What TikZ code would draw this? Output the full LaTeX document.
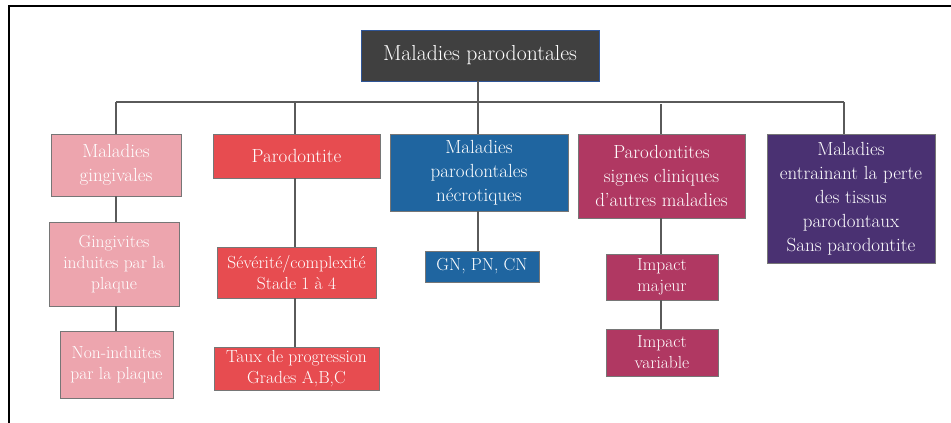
\documentclass[tikz,border=0pt]{standalone}
\usepackage{fontspec}
\definecolor{rootfill}{RGB}{64,64,64}
\definecolor{rootborder}{RGB}{47,85,151}
\definecolor{pinkfill}{RGB}{237,165,174}
\definecolor{redfill}{RGB}{231,76,80}
\definecolor{bluefill}{RGB}{31,101,160}
\definecolor{magfill}{RGB}{176,56,98}
\definecolor{purpfill}{RGB}{74,49,114}
\definecolor{boxborder}{RGB}{118,118,118}
\definecolor{linkgray}{RGB}{90,90,90}
\tikzset{
  box/.style={draw=boxborder, line width=0.9pt, text=white, align=center, inner sep=0pt},
  lvlone/.style={box, font=\fontsize{19}{24}\selectfont},
  lvltwo/.style={box, font=\fontsize{17.5}{21}\selectfont},
  link/.style={draw=linkgray, line width=1.2pt},
}
\begin{document}
\begin{tikzpicture}[x=1pt,y=-1pt]
\useasboundingbox (0,0) rectangle (951,423);
% frame
\draw[line width=2pt, black] (8.5,424) -- (8.5,5.5) -- (952,5.5);
% root
\node[box, draw=rootborder, fill=rootfill, minimum width=238pt, minimum height=51pt,
      font=\fontsize{21.7}{24}\selectfont] (root) at (480,55.5) {Maladies parodontales};
% level 1
\node[lvlone, fill=pinkfill, minimum width=130pt, minimum height=62pt] (ging) at (116,165) {Maladies\\gingivales};
\node[lvlone, fill=redfill, minimum width=167pt, minimum height=44pt] (paro) at (296.5,156) {Parodontite};
\node[lvlone, fill=bluefill, minimum width=178pt, minimum height=77pt] (necro) at (479,172.5) {Maladies\\parodontales\\nécrotiques};
\node[lvlone, fill=magfill, minimum width=167pt, minimum height=84pt] (signes) at (661.5,176) {Parodontites\\signes cliniques\\d’autres maladies};
\node[lvlone, fill=purpfill, minimum width=168pt, minimum height=129pt] (perte) at (851,198.5) {Maladies\\entrainant la perte\\des tissus\\parodontaux\\Sans parodontite};
% level 2
\node[lvltwo, fill=pinkfill, minimum width=130pt, minimum height=84pt] (induites) at (114,264) {Gingivites\\induites par la\\plaque};
\node[lvltwo, fill=pinkfill, minimum width=113pt, minimum height=67pt] (noninduites) at (116.5,364.5) {Non-induites\\par la plaque};
\node[lvltwo, fill=redfill, minimum width=159pt, minimum height=51pt] (severite) at (296.5,272.5) {Sévérité/complexité\\Stade 1 à 4};
\node[lvltwo, fill=redfill, minimum width=165pt, minimum height=43pt] (taux) at (296.5,368.5) {Taux de progression\\Grades A,B,C};
\node[lvltwo, fill=bluefill, minimum width=114pt, minimum height=31pt] (gn) at (482,266.5) {GN, PN, CN};
\node[lvltwo, fill=magfill, minimum width=112pt, minimum height=46pt] (majeur) at (662,277) {Impact\\majeur};
\node[lvltwo, fill=magfill, minimum width=112pt, minimum height=47pt] (variable) at (662,352.5) {Impact\\variable};
% bus
\coordinate (b1) at (116,102);
\coordinate (b2) at (295,102);
\coordinate (b3) at (478,102);
\coordinate (b4) at (661,102);
\coordinate (b5) at (844,102);
\draw[link] (b3 |- root.south) -- (b3);
\draw[link] (b1) -- (b5);
\draw[link] (b1) -- (b1 |- ging.north);
\draw[link] (b2) -- (b2 |- paro.north);
\draw[link] (b3) -- (b3 |- necro.north);
\draw[link] ([yshift=-2pt]b4) -- (b4 |- signes.north);
\draw[link] (b5) -- (b5 |- perte.north);
% stacked links
\draw[link] (b1 |- ging.south) -- (b1 |- induites.north);
\draw[link] (b1 |- induites.south) -- (b1 |- noninduites.north);
\draw[link] (b2 |- paro.south) -- (b2 |- severite.north);
\draw[link] (b2 |- severite.south) -- (b2 |- taux.north);
\draw[link] (b3 |- necro.south) -- (b3 |- gn.north);
\draw[link] (b4 |- signes.south) -- (b4 |- majeur.north);
\draw[link] (b4 |- majeur.south) -- (b4 |- variable.north);
\end{tikzpicture}
\end{document}
